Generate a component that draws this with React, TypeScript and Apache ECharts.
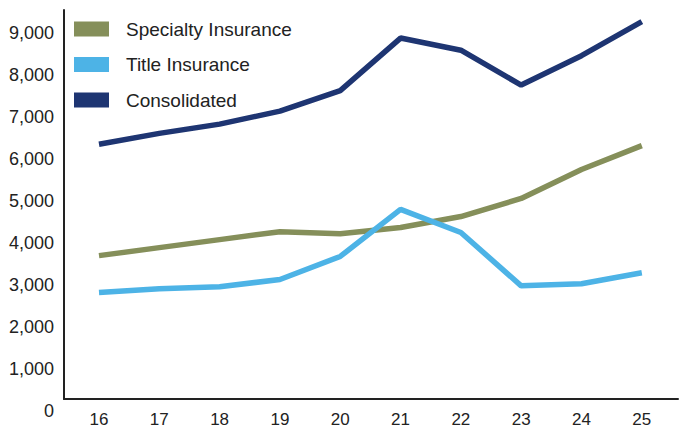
import React, { useEffect, useRef } from "react";
import * as echarts from "echarts";

const years = [16, 17, 18, 19, 20, 21, 22, 23, 24, 25];
const specialty = [3700, 3890, 4080, 4270, 4220, 4370, 4630, 5060, 5750, 6320];
const title = [2820, 2910, 2960, 3130, 3680, 4800, 4250, 2980, 3030, 3290];
const consolidated = [6350, 6610, 6830, 7140, 7630, 8880, 8590, 7760, 8460, 9270];
const yTicks = [0, 1000, 2000, 3000, 4000, 5000, 6000, 7000, 8000, 9000];

const pairs = (vals: number[]) => vals.map((v, i) => [years[i], v]);

export default function App() {
  const ref = useRef<HTMLDivElement>(null);
  useEffect(() => {
    if (!ref.current) return;
    const chart = echarts.init(ref.current, null, { renderer: "svg" });
    const font = "Liberation Sans, Arial, sans-serif";
    const xMin = 15.42;
    const xMax = 25.6;
    chart.setOption({
      animation: false,
      textStyle: { fontFamily: font },
      legend: {
        orient: "vertical",
        left: 69,
        top: 14,
        itemWidth: 35,
        itemHeight: 15,
        itemGap: 15.5,
        icon: "rect",
        textStyle: { fontSize: 19, color: "#222", lineHeight: 20, padding: [0, 0, 0, 12], fontFamily: font },
        data: ["Specialty Insurance", "Title Insurance", "Consolidated"],
      },
      grid: [
        { left: 64, right: 1, top: 10, bottom: 31 },
        { left: 64, right: 1, top: 10, bottom: 19 },
      ],
      xAxis: [
        {
          type: "value",
          gridIndex: 0,
          min: xMin,
          max: xMax,
          splitLine: { show: false },
          axisTick: { show: false },
          axisLine: { show: true, lineStyle: { color: "#222", width: 2 } },
          axisLabel: {
            customValues: years,
            fontSize: 17,
            color: "#222",
            margin: 12,
            fontFamily: font,
            formatter: (v: number) => String(v),
          },
        },
        {
          type: "value",
          gridIndex: 1,
          min: xMin,
          max: xMax,
          show: false,
        },
      ],
      yAxis: [
        {
          type: "value",
          gridIndex: 0,
          min: 0,
          max: 1,
          splitLine: { show: false },
          axisTick: { show: false },
          axisLabel: { show: false },
          axisLine: { show: true, lineStyle: { color: "#222", width: 2 } },
        },
        {
          type: "value",
          gridIndex: 1,
          min: 0,
          max: 9548,
          splitLine: { show: false },
          axisTick: { show: false },
          axisLine: { show: false },
          axisLabel: {
            customValues: yTicks,
            fontSize: 18,
            color: "#222",
            margin: 10,
            fontFamily: font,
            formatter: (v: number) => v.toLocaleString("en-US"),
          },
        },
      ],
      series: [
        {
          name: "Specialty Insurance",
          type: "line",
          xAxisIndex: 1,
          yAxisIndex: 1,
          data: pairs(specialty),
          showSymbol: false,
          lineStyle: { width: 5.5, color: "#858F5A" },
          itemStyle: { color: "#858F5A" },
        },
        {
          name: "Title Insurance",
          type: "line",
          xAxisIndex: 1,
          yAxisIndex: 1,
          data: pairs(title),
          showSymbol: false,
          lineStyle: { width: 5.5, color: "#4DB3E6" },
          itemStyle: { color: "#4DB3E6" },
        },
        {
          name: "Consolidated",
          type: "line",
          xAxisIndex: 1,
          yAxisIndex: 1,
          data: pairs(consolidated),
          showSymbol: false,
          lineStyle: { width: 5.5, color: "#1E3572" },
          itemStyle: { color: "#1E3572" },
        },
      ],
    });
    return () => chart.dispose();
  }, []);
  return <div ref={ref} style={{ width: 679, height: 430, position: "absolute", left: 0, top: 0 }} />;
}
